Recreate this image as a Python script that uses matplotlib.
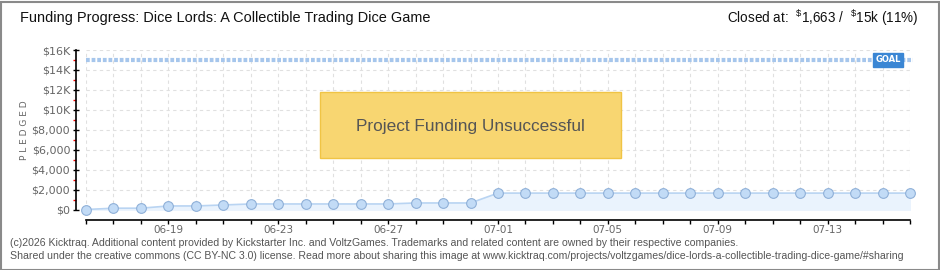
import numpy as np
import matplotlib
matplotlib.use('agg')
import matplotlib.pyplot as plt
from matplotlib.patches import Rectangle

#*********************************** DATA **************************************
dates = ['06-16', '06-17', '06-18', '06-19', '06-20', '06-21', '06-22', '06-23',
         '06-24', '06-25', '06-26', '06-27', '06-28', '06-29', '06-30', '07-01',
         '07-02', '07-03', '07-04', '07-05', '07-06', '07-07', '07-08', '07-09',
         '07-10', '07-11', '07-12', '07-13', '07-14', '07-15', '07-16']
pledged = [20, 150, 150, 375, 375, 475, 575, 575,
           575, 575, 575, 575, 675, 675, 675, 1663,
           1663, 1663, 1663, 1663, 1663, 1663, 1663, 1663,
           1663, 1663, 1663, 1663, 1663, 1663, 1663]
goal = 15000
ytick_vals = [0, 2000, 4000, 6000, 8000, 10000, 12000, 14000, 16000]
ytick_labels = ['$0', '$2,000', '$4,000', '$6,000', '$8,000', '$10K', '$12K', '$14K', '$16K']
title = 'Funding Progress: Dice Lords: A Collectible Trading Dice Game'
closed_text = r'Closed at:  $^{\$}$1,663 /  $^{\$}$15k (11%)'
footer = ['(c)2026 Kicktraq. Additional content provided by Kickstarter Inc. and VoltzGames. '
          'Trademarks and related content are owned by their respective companies.',
          'Shared under the creative commons (CC BY-NC 3.0) license. Read more about sharing this image at '
          'www.kicktraq.com/projects/voltzgames/dice-lords-a-collectible-trading-dice-game/#sharing']

#*********************************** STYLE *************************************
plt.rcParams['font.family'] = ['Liberation Sans', 'DejaVu Sans']
plt.rcParams['mathtext.default'] = 'regular'
W, H = 940, 270
gray = '#666666'
PX = 0.72  # points per pixel at dpi 100

fig = plt.figure(figsize=(W / 100, H / 100), dpi=100)
fig.patch.set_facecolor('white')
fig.patches.append(Rectangle((0.5 / W, 0.5 / H), 1 - 2 / W, 1 - 2 / H, transform=fig.transFigure,
                             fill=False, edgecolor='#8a8a8a', linewidth=1.5))
renderer = fig.canvas.get_renderer()

def fit_text(t, width_px):
    # shrink/grow the font so the text spans the width seen in the picture
    w = t.get_window_extent(renderer).width
    t.set_fontsize(t.get_fontsize() * width_px / w)
    return t

x0, x1 = 86, 910
y0, y1 = 209.7, 50
ax = fig.add_axes([x0 / W, (H - y0) / H, (x1 - x0) / W, (y0 - y1) / H])
x = np.arange(len(dates))
ax.set_xlim(0, len(dates) - 1)
ax.set_ylim(0, 16000)

# grid
for xi in x:
    ax.axvline(xi, color='#e0e0e0', lw=0.8, dashes=(3, 3), zorder=0)
for yv in ytick_vals:
    ax.axhline(yv, color='#e0e0e0', lw=0.8, dashes=(3, 3), zorder=0)

# data
ax.fill_between(x, pledged, 0, color='#eaf3fd', zorder=1)
ax.plot(x, pledged, color='#b9d4f2', lw=1.2, zorder=2)
ax.plot(x, pledged, 'o', ms=7, mfc='#c2dbf6', mec='#8fb0d8', mew=0.8, zorder=3, clip_on=False)

# goal line
ax.plot([0, len(dates) - 1 + 0.1], [goal, goal], color='#a6c6ec', lw=3, dashes=(0.9, 0.45),
        zorder=2, clip_on=False)
ax.text(29.2, goal, 'GOAL', color='white', fontsize=6, fontweight='bold', ha='center', va='center',
        family='DejaVu Sans', zorder=5,
        bbox=dict(boxstyle='square,pad=0.25', fc='#3a86d4', ec='#3a86d4'))

# axes
for s in ['top', 'right']:
    ax.spines[s].set_visible(False)
ax.spines['left'].set_position(('outward', 10 * PX))
ax.spines['bottom'].set_position(('outward', 10 * PX))
ax.spines['left'].set_linewidth(1.2)
ax.spines['bottom'].set_linewidth(1.2)
ax.set_yticks(ytick_vals)
ax.set_yticklabels(ytick_labels, family='DejaVu Sans')
ax.set_yticks(np.arange(1000, 16000, 2000), minor=True)
ax.tick_params(axis='y', which='major', direction='inout', length=6 * PX, width=1, colors='black',
               labelcolor=gray, labelsize=8, pad=2)
ax.tick_params(axis='y', which='minor', direction='out', length=3 * PX, width=1, colors='red')
ax.set_xticks(x)
ax.set_xticklabels([d if (i - 3) % 4 == 0 else '' for i, d in enumerate(dates)], family='DejaVu Sans')
ax.tick_params(axis='x', direction='out', length=4 * PX, width=1, colors='black',
               labelcolor=gray, labelsize=7.5, pad=1)
ax.set_ylabel('P L E D G E D', color=gray, fontsize=6.5, labelpad=2, family='DejaVu Sans')

# unsuccessful box
fig.patches.append(Rectangle((320 / W, (H - 158) / H), 301 / W, 66 / H, transform=fig.transFigure,
                             facecolor='#f8d671', edgecolor='#f0c445', lw=1, zorder=6))
t = fig.text(470 / W, (H - 126) / H, 'Project Funding Unsuccessful', fontsize=12, color='#555555',
             ha='center', va='center', zorder=7)
fit_text(t, 228)

# titles
t = fig.text(20 / W, (H - 18) / H, title, fontsize=12.5, ha='left', va='center', color='#111111')
fit_text(t, 410)
t = fig.text(918 / W, (H - 18) / H, closed_text, fontsize=12.5, ha='right', va='center', color='#111111')
fit_text(t, 191)
t = fig.text(10 / W, (H - 243) / H, footer[0], fontsize=7, ha='left', va='center', color='#555555')
fit_text(t, 727)
t = fig.text(10 / W, (H - 256) / H, footer[1], fontsize=7, ha='left', va='center', color='#555555')
fit_text(t, 895)

fig.savefig('out.png', dpi=100)
